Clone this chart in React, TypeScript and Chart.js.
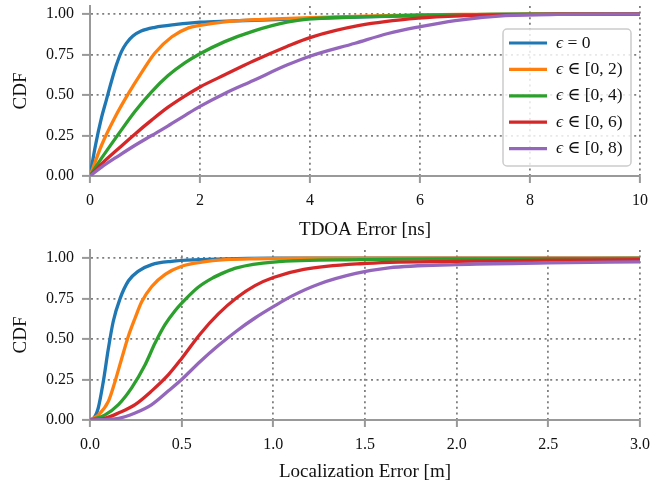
import React, { useEffect, useRef } from "react";
import { Chart, registerables } from "chart.js";

Chart.register(...registerables);

// ---------- Data ----------
const seriesLabels = ["ϵ = 0", "ϵ ∈ [0, 2)", "ϵ ∈ [0, 4)", "ϵ ∈ [0, 6)", "ϵ ∈ [0, 8)"];
const seriesColors = ["#1f77b4", "#ff7f0e", "#2ca02c", "#d62728", "#9467bd"];

const yTicks = [0, 0.25, 0.5, 0.75, 1.0];
const yTickLabels = ["0.00", "0.25", "0.50", "0.75", "1.00"];

// TDOA error (ns)
const tdoaTicks = [0, 2, 4, 6, 8, 10];
const tdoaTickLabels = ["0", "2", "4", "6", "8", "10"];

const tdoa0X = [0, 0.1, 0.206, 0.297, 0.388, 0.479, 0.57, 0.66, 0.78, 0.93, 1.18, 1.57, 2.0, 2.5, 3.0, 3.5, 4.0, 5.0, 6.0, 7.0, 8.0, 10];
const tdoa0Y = [0, 0.19, 0.356, 0.469, 0.582, 0.685, 0.767, 0.819, 0.864, 0.895, 0.918, 0.936, 0.95, 0.957, 0.962, 0.967, 0.972, 0.983, 0.99, 0.996, 0.999, 1.0];

const tdoa2X = [0, 0.21, 0.45, 0.7, 0.94, 1.18, 1.49, 1.79, 2.0, 2.45, 3.0, 3.5, 4.0, 5.0, 6.0, 7.0, 8.0, 10];
const tdoa2Y = [0, 0.19, 0.36, 0.51, 0.64, 0.76, 0.86, 0.915, 0.93, 0.952, 0.965, 0.972, 0.978, 0.988, 0.995, 0.998, 1.0, 1.0];

const tdoa4X = [0, 0.21, 0.52, 0.82, 1.12, 1.42, 1.73, 2.0, 2.45, 2.97, 3.58, 4.0, 4.9, 6.0, 7.0, 8.0, 10];
const tdoa4Y = [0, 0.11, 0.26, 0.4, 0.52, 0.62, 0.7, 0.755, 0.83, 0.895, 0.95, 0.97, 0.983, 0.993, 0.997, 1.0, 1.0];

const tdoa6X = [0, 0.21, 0.52, 0.82, 1.12, 1.42, 1.73, 2.0, 2.45, 2.97, 3.58, 4.0, 4.9, 5.97, 6.8, 7.5, 8.5, 10];
const tdoa6Y = [0, 0.075, 0.17, 0.26, 0.345, 0.425, 0.495, 0.55, 0.625, 0.71, 0.8, 0.855, 0.93, 0.975, 0.99, 0.995, 1.0, 1.0];

const tdoa8X = [0, 0.21, 0.52, 0.82, 1.12, 1.42, 1.73, 2.0, 2.45, 2.97, 3.58, 4.0, 4.82, 5.42, 5.97, 6.64, 7.55, 8.5, 10];
const tdoa8Y = [0, 0.055, 0.125, 0.19, 0.25, 0.31, 0.375, 0.43, 0.51, 0.59, 0.685, 0.74, 0.82, 0.88, 0.92, 0.96, 0.99, 0.998, 1.0];

// Localization error (m)
const locTicks = [0, 0.5, 1.0, 1.5, 2.0, 2.5, 3.0];
const locTickLabels = ["0.0", "0.5", "1.0", "1.5", "2.0", "2.5", "3.0"];

const loc0X = [0, 0.02, 0.045, 0.073, 0.1, 0.127, 0.164, 0.21, 0.264, 0.337, 0.446, 0.6, 0.8, 1.0, 3.0];
const loc0Y = [0, 0.01, 0.074, 0.24, 0.44, 0.61, 0.75, 0.86, 0.92, 0.96, 0.98, 0.99, 0.997, 1.0, 1.0];

const loc2X = [0, 0.045, 0.1, 0.137, 0.173, 0.21, 0.246, 0.282, 0.337, 0.41, 0.5, 0.61, 0.74, 0.9, 1.2, 3.0];
const loc2Y = [0, 0.03, 0.115, 0.24, 0.38, 0.52, 0.63, 0.73, 0.825, 0.9, 0.95, 0.975, 0.99, 0.996, 1.0, 1.0];

const loc4X = [0, 0.08, 0.155, 0.228, 0.3, 0.355, 0.41, 0.464, 0.52, 0.59, 0.665, 0.74, 0.8, 1.0, 1.475, 2.0, 3.0];
const loc4Y = [0, 0.03, 0.095, 0.2, 0.34, 0.475, 0.59, 0.675, 0.745, 0.82, 0.875, 0.915, 0.94, 0.975, 0.99, 0.995, 0.998];

const loc6X = [0, 0.08, 0.155, 0.246, 0.337, 0.428, 0.5, 0.6, 0.7, 0.8, 0.9, 1.0, 1.166, 1.475, 2.0, 2.5, 3.0];
const loc6Y = [0, 0.01, 0.043, 0.095, 0.18, 0.28, 0.38, 0.53, 0.655, 0.755, 0.83, 0.88, 0.93, 0.965, 0.98, 0.987, 0.99];

const loc8X = [0, 0.155, 0.246, 0.337, 0.428, 0.5, 0.6, 0.7, 0.8, 0.9, 1.0, 1.1, 1.25, 1.45, 1.63, 2.0, 2.5, 3.0];
const loc8Y = [0, 0.01, 0.043, 0.095, 0.18, 0.25, 0.36, 0.46, 0.55, 0.63, 0.7, 0.765, 0.84, 0.905, 0.94, 0.96, 0.97, 0.977];

const tdoaSeries = [
  [tdoa0X, tdoa0Y],
  [tdoa2X, tdoa2Y],
  [tdoa4X, tdoa4Y],
  [tdoa6X, tdoa6Y],
  [tdoa8X, tdoa8Y],
];
const locSeries = [
  [loc0X, loc0Y],
  [loc2X, loc2Y],
  [loc4X, loc4Y],
  [loc6X, loc6Y],
  [loc8X, loc8Y],
];

// ---------- Styling ----------
const FONT = "'Liberation Serif', 'DejaVu Serif', serif";
const GRID = "#7f7f7f";
const SPINE = "#999999";
const TEXT = "#111111";

const legendPlugin = {
  id: "boxLegend",
  afterDraw(chart: any) {
    const { ctx, chartArea } = chart;
    const w = 128;
    const h = 137;
    const right = chartArea.right - 9;
    const left = right - w;
    const top = chartArea.top + 23;
    ctx.save();
    ctx.beginPath();
    (ctx as any).roundRect(left, top, w, h, 4);
    ctx.fillStyle = "rgba(255,255,255,0.82)";
    ctx.fill();
    ctx.lineWidth = 1.5;
    ctx.strokeStyle = "#cccccc";
    ctx.stroke();
    chart.data.datasets.forEach((ds: any, i: number) => {
      const y = top + 14 + i * 26.4;
      ctx.beginPath();
      ctx.moveTo(left + 6, y);
      ctx.lineTo(left + 44, y);
      ctx.lineWidth = 3.2;
      ctx.strokeStyle = ds.borderColor;
      ctx.lineCap = "butt";
      ctx.stroke();
      const label: string = ds.label;
      const first = label.slice(0, 1);
      const rest = label.slice(1);
      ctx.fillStyle = TEXT;
      ctx.textBaseline = "middle";
      ctx.textAlign = "left";
      ctx.font = `italic 17.5px ${FONT}`;
      const x0 = left + 53;
      ctx.fillText(first, x0, y);
      const fw = ctx.measureText(first).width;
      ctx.font = `17.5px ${FONT}`;
      ctx.fillText(rest, x0 + fw, y);
    });
    ctx.restore();
  },
};

function buildConfig(
  series: number[][][],
  xMax: number,
  xTicks: number[],
  xTickLabels: string[],
  xTitle: string,
  padTop: number,
  xAxisHeight: number,
  titlePadBottom: number,
  withLegend: boolean
): any {
  return {
    type: "line",
    data: {
      datasets: series.map(([xs, ys], i) => ({
        label: seriesLabels[i],
        data: xs.map((x, j) => ({ x, y: ys[j] })),
        borderColor: seriesColors[i],
        backgroundColor: seriesColors[i],
        borderWidth: 3.3,
        pointRadius: 0,
        fill: false,
        cubicInterpolationMode: "monotone",
        order: series.length - i,
      })),
    },
    options: {
      responsive: false,
      animation: false,
      devicePixelRatio: 1,
      layout: { padding: { top: padTop, right: 20, left: 0, bottom: 0 } },
      plugins: {
        legend: { display: false },
        tooltip: { enabled: false },
      },
      scales: {
        x: {
          type: "linear",
          min: 0,
          max: xMax,
          afterBuildTicks: (s: any) => {
            s.ticks = xTicks.map((v) => ({ value: v }));
          },
          afterFit: (s: any) => {
            s.height = xAxisHeight;
          },
          grid: {
            color: GRID,
            lineWidth: 1.8,
            tickLength: 7,
            tickColor: SPINE,
            tickWidth: 2,
          },
          border: { display: true, color: SPINE, width: 2, dash: [2, 3.6] },
          ticks: {
            autoSkip: false,
            maxRotation: 0,
            padding: 8,
            color: TEXT,
            font: { family: FONT, size: 16 },
            callback: (v: number) => xTickLabels[xTicks.indexOf(v)] ?? "",
          },
          title: {
            display: true,
            text: xTitle,
            color: TEXT,
            font: { family: FONT, size: 19 },
            padding: { top: 0, bottom: titlePadBottom },
          },
        },
        y: {
          type: "linear",
          min: 0,
          max: 1.05,
          afterBuildTicks: (s: any) => {
            s.ticks = yTicks.map((v) => ({ value: v }));
          },
          afterFit: (s: any) => {
            s.width = 90;
            s.paddingTop = 0;
            s.paddingBottom = 0;
          },
          grid: {
            color: GRID,
            lineWidth: 1.8,
            tickLength: 8,
            tickColor: SPINE,
            tickWidth: 2,
          },
          border: { display: true, color: SPINE, width: 2, dash: [2, 3.6] },
          ticks: {
            padding: 8,
            color: TEXT,
            font: { family: FONT, size: 16 },
            callback: (v: number) => yTickLabels[yTicks.indexOf(v)] ?? "",
          },
          title: {
            display: true,
            text: "CDF",
            color: TEXT,
            font: { family: FONT, size: 19 },
            padding: { top: 10, bottom: 0 },
          },
        },
      },
    },
    plugins: withLegend ? [legendPlugin] : [],
  };
}

function CdfCanvas({ height, config }: { height: number; config: () => any }) {
  const ref = useRef<HTMLCanvasElement | null>(null);
  useEffect(() => {
    if (!ref.current) return;
    const chart = new Chart(ref.current, config());
    return () => chart.destroy();
  }, []);
  return (
    <canvas
      ref={ref}
      width={660}
      height={height}
      style={{ display: "block", width: 660, height }}
    />
  );
}

export default function App() {
  return (
    <div
      style={{
        position: "absolute",
        left: 0,
        top: 0,
        width: 660,
        height: 485,
        background: "#ffffff",
      }}
    >
      <CdfCanvas
        height={242}
        config={() =>
          buildConfig(tdoaSeries, 10, tdoaTicks, tdoaTickLabels, "TDOA Error [ns]", 6, 66, 1, true)
        }
      />
      <CdfCanvas
        height={243}
        config={() =>
          buildConfig(locSeries, 3, locTicks, locTickLabels, "Localization Error [m]", 8, 65, 2, false)
        }
      />
    </div>
  );
}
